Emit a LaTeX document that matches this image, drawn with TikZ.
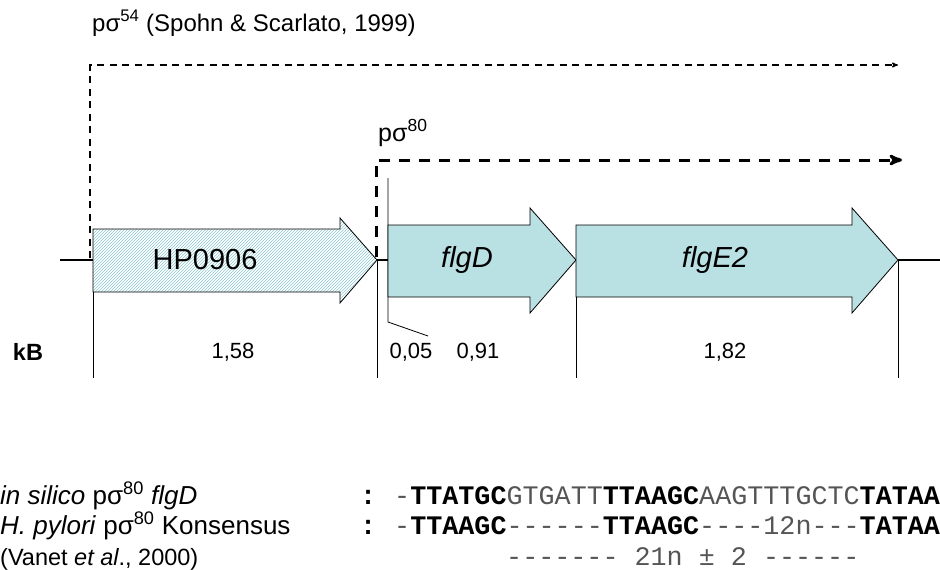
\documentclass[tikz,border=0pt]{standalone}
\usepackage{fontspec}
\setmainfont{Liberation Sans}
\setmonofont{Liberation Mono}
\usetikzlibrary{arrows,positioning,patterns}
\definecolor{genefill}{HTML}{B9E0E3}
\definecolor{hatchfill}{HTML}{8FC9D0}
\definecolor{seqthin}{HTML}{555555}
\tikzset{
    %Define standard arrow tip
    >=stealth',
    %Define style for gene arrows
    gene/.style={
        draw=black,
        line width=0.8pt,
        fill=genefill
    },
    hypothetical/.style={
        draw=black,
        line width=0.8pt,
        preaction={fill=white},
        pattern=north east lines,
        pattern color=hatchfill
    },
    % lines
    backbone/.style={line width=2pt},
    ruler/.style={line width=0.8pt},
    promoter/.style={->, line width=1.1pt, dash pattern=on 7pt off 5.5pt},
    promoterbold/.style={->, line width=3pt, dash pattern=on 11pt off 9pt},
    % texts
    genelabel/.style={font=\fontsize{29}{34}\selectfont},
    sizelabel/.style={font=\fontsize{22}{26}\selectfont},
    rowlabel/.style={font=\fontsize{26}{30}\selectfont, anchor=base west, inner sep=0pt},
    seq/.style={font=\ttfamily\fontsize{26.75}{30}\selectfont, anchor=base west, inner sep=0pt, text=seqthin}
}

\begin{document}
\begin{tikzpicture}[x=1pt,y=-1pt]
    \useasboundingbox (0,0) rectangle (940,570);
    %coordinates on the backbone
    \coordinate (hpTail) at (93,260);
    \coordinate (hpTip) at (377,260);
    \coordinate (flgDTail) at (388,260);
    \coordinate (flgDTip) at (576,260);
    \coordinate (flgETip) at (898,260);
    %start line of flgD
    \draw[ruler] (388,178) -- (388,322) -- (428,336);
    %genes
    \draw[hypothetical] (93,229) -- (340,229) -- (340,218) -- (hpTip) -- (340,303) -- (340,292) -- (93,292) -- cycle;
    \draw[gene] (388,225) -- (530,225) -- (530,208) -- (flgDTip) -- (530,313) -- (530,297) -- (388,297) -- cycle;
    \draw[gene] (576,225) -- (852,225) -- (852,208) -- (flgETip) -- (852,313) -- (852,297) -- (576,297) -- cycle;
    \node[genelabel](hp) at (205,260){HP0906};
    \node[genelabel](flgD) at (467,260){\itshape flgD};
    \node[genelabel](flgE) at (715,260){\itshape flgE2};
    %backbone
    \draw[backbone] (60,260) -- (hpTail);
    \draw[backbone] (hpTip) -- (flgDTail);
    \draw[backbone] (flgETip) -- (940,260);
    %size ruler
    \draw[ruler] (93,292) -- (93,378);
    \draw[ruler] (hpTip) -- (377,378);
    \draw[ruler] (576,297) -- (576,378);
    \draw[ruler] (flgETip) -- (898,378);
    \node[sizelabel, font=\fontsize{23.5}{26}\selectfont\bfseries](kb) at (28,352){kB};
    \node[sizelabel](s1) at (233,352){1,58};
    \node[sizelabel](s2) at (411,352){0,05};
    \node[sizelabel](s3) at (478,352){0,91};
    \node[sizelabel](s4) at (725,352){1,82};
    %promoters
    \draw[promoter] (90,258) -- (90,65) -- (898,65);
    \draw[promoterbold] (376,257) -- (376,160) -- (902,160);
    \node[anchor=base west, inner sep=0pt](p54) at (92,31){\fontsize{24}{28}\selectfont pσ\textsuperscript{54} (Spohn \& Scarlato, 1999)};
    \node[anchor=base west, inner sep=0pt](p80) at (378,141){\fontsize{25}{28}\selectfont pσ\textsuperscript{80}};
    %sequences
    \node[rowlabel](l1) at (0,504){\textit{in silico} pσ\textsuperscript{80} \textit{flgD}};
    \node[rowlabel](l2) at (0,534){\textit{H. pylori} pσ\textsuperscript{80} Konsensus};
    \node[rowlabel, font=\fontsize{23.5}{27}\selectfont](l3) at (0,565){(Vanet \textit{et al}., 2000)};
    \node[seq, text=black](c1) at (360,504){\textbf{:}};
    \node[seq, text=black](c2) at (360,534){\textbf{:}};
    \node[seq](q1) at (394,504){-\textbf{\textcolor{black}{TTATGC}}GTGATT\textbf{\textcolor{black}{TTAAGC}}AAGTTTGCTC\textbf{\textcolor{black}{TATAAT}}};
    \node[seq](q2) at (394,534){-\textbf{\textcolor{black}{TTAAGC}}------\textbf{\textcolor{black}{TTAAGC}}----12n---\textbf{\textcolor{black}{TATAAT}}};
    \node[seq](q3) at (506,565){------- 21n ± 2 ------};
\end{tikzpicture}
\end{document}
